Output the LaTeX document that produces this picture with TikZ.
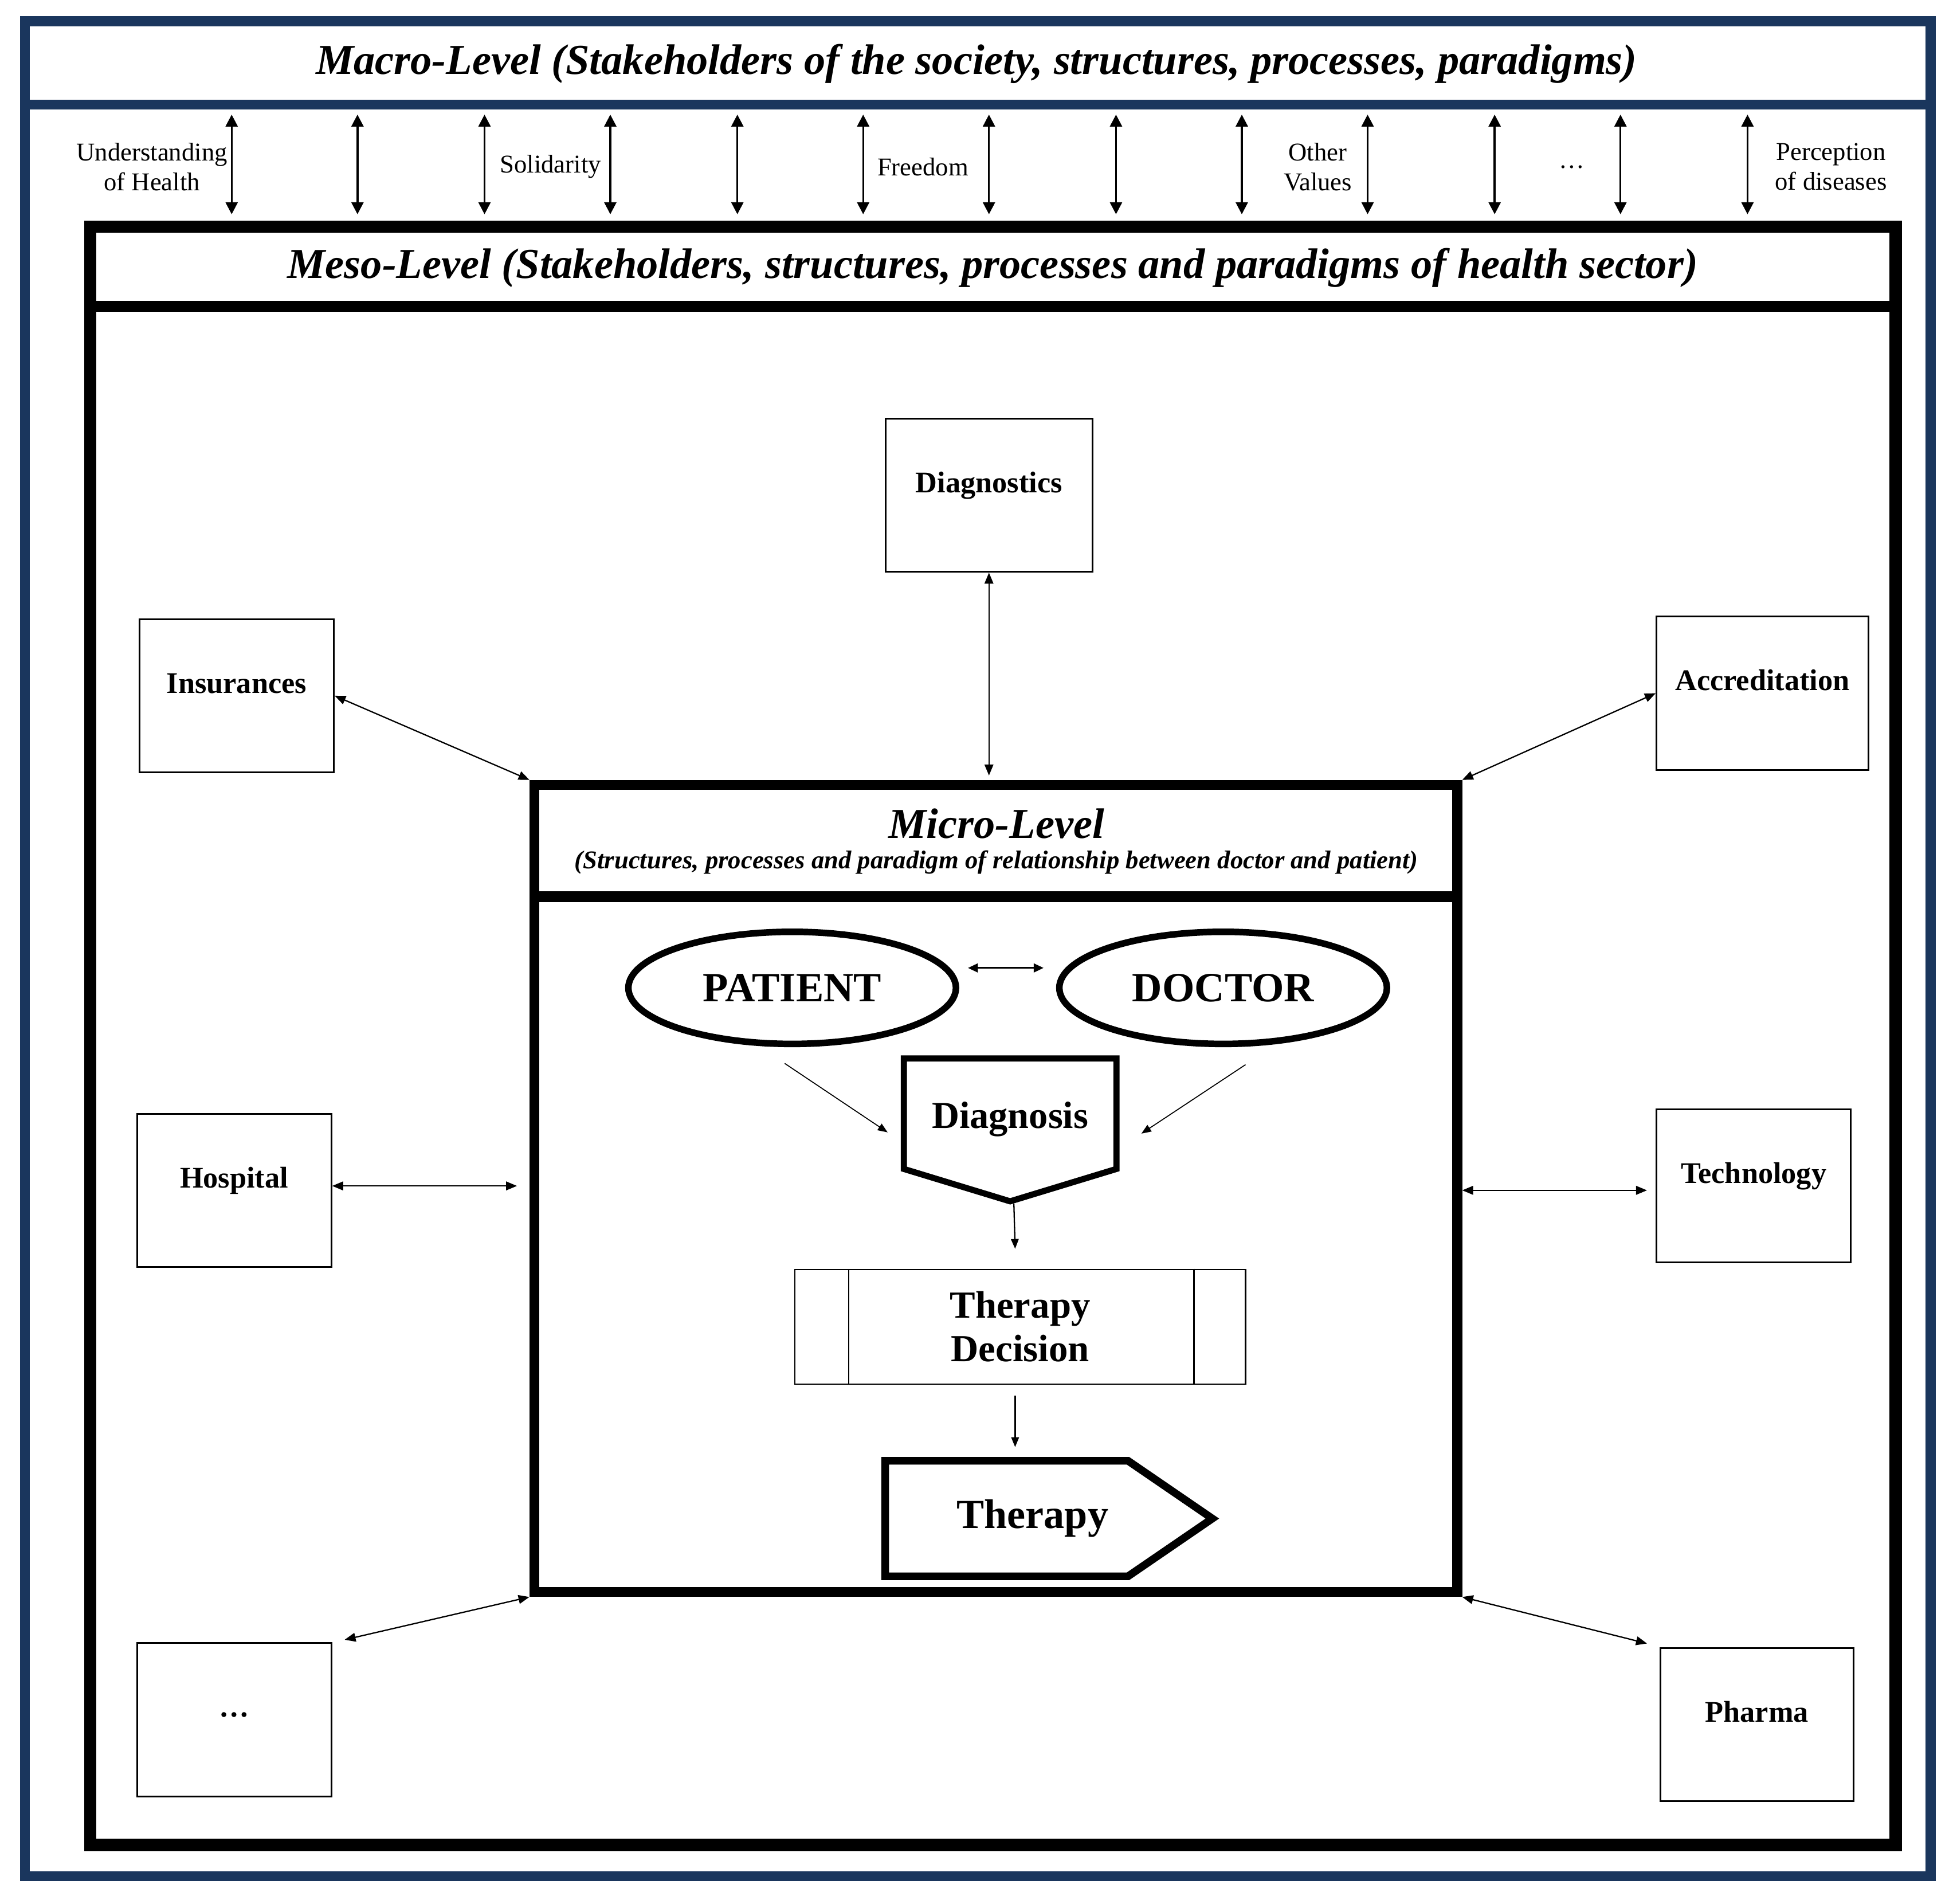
\documentclass[tikz,border=0pt]{standalone}
\usepackage{fontspec}
\setmainfont{Liberation Serif}
\usetikzlibrary{arrows.meta,calc,shapes.geometric}
\definecolor{frameblue}{RGB}{26,54,93}
\newcommand\mytitlefont{\bfseries\itshape\fontsize{19.5}{22}\selectfont}
\newcommand\mylblfont{\fontsize{11.7}{13.6}\selectfont}
\newcommand\myboxfont{\bfseries\fontsize{13.7}{16}\selectfont}
\begin{document}
\begin{tikzpicture}[x=0.02cm,y=-0.02cm,
  vdbl/.style={{Triangle[width=5.5pt,length=5.5pt]}-{Triangle[width=5.5pt,length=5.5pt]},line width=0.9pt},
  mesoarrow/.style={{Triangle[width=4pt,length=5pt]}-{Triangle[width=4pt,length=5pt]},line width=0.6pt},
  thinarrow/.style={-{Triangle[width=3.5pt,length=4.5pt]},line width=0.45pt},
  lbl/.style={font=\mylblfont,align=center,inner sep=0pt},
  mesobox/.style={draw,line width=0.8pt,minimum height=123*0.02cm,font=\myboxfont,text height=8pt,text depth=10.4pt,inner sep=0pt},
]
\useasboundingbox (0,0) rectangle (1568,1528);
\fill[white] (0,0) rectangle (1568,1528);

% outer blue frame (macro level)
\draw[frameblue,line width=4.5pt] (20,17) rectangle (1550,1506);
\draw[frameblue,line width=4.5pt] (20,84) -- (1550,84);
\node[font=\mytitlefont] (macrot) at (784,51) {Macro-Level (Stakeholders of the society, structures, processes, paradigms)};

% meso frame
\draw[line width=5.7pt] (72.5,182) rectangle (1522,1481);
\draw[line width=5pt] (72.5,246) -- (1522,246);
\node[font=\mytitlefont] (mesot) at (797,215) {Meso-Level (Stakeholders, structures, processes and paradigms of health sector)};

% macro-meso arrows
\foreach \x [count=\i] in {186,287,389,490,592,693,794,896,997,1098,1200,1301,1403}{
  \coordinate (t\i) at (\x,92);
  \coordinate (b\i) at (\x,172);
  \draw[vdbl] (t\i) -- (b\i);
}
\node[lbl] (l1) at (122,134) {Understanding\\of Health};
\node[lbl] (l2) at (442,134) {Solidarity};
\node[lbl] (l3) at (741,134) {Freedom};
\node[lbl] (l4) at (1058,134) {Other\\Values};
\node[lbl] (l5) at (1262,134) {\dots};
\node[lbl] (l6) at (1470,134) {Perception\\of diseases};

% meso boxes
\node[mesobox,minimum width=166*0.02cm] (diag) at (794,397.5) {Diagnostics};
\node[mesobox,minimum width=156*0.02cm] (ins) at (190,558.5) {Insurances};
\node[mesobox,minimum width=170*0.02cm] (acc) at (1415,556.5) {Accreditation};
\node[mesobox,minimum width=156*0.02cm] (hosp) at (188,955.5) {Hospital};
\node[mesobox,minimum width=156*0.02cm] (tech) at (1408,952) {Technology};
\node[mesobox,minimum width=156*0.02cm] (dots) at (188,1380.5) {\dots};
\node[mesobox,minimum width=155*0.02cm] (ph) at (1410.5,1384.5) {Pharma};

% micro frame
\node[draw,line width=4.5pt,minimum width=741*0.02cm,minimum height=648*0.02cm,inner sep=0pt] (micro) at (799.5,954) {};
\draw[line width=5pt] (429,720) -- (1170,720);
\node[font=\bfseries\itshape\fontsize{19.5}{22}\selectfont] (microt) at (800,661) {Micro-Level};
\node[font=\bfseries\itshape\fontsize{11.7}{13}\selectfont] (micros) at (800,692) {(Structures, processes and paradigm of relationship between doctor and patient)};

% meso connectors
\draw[mesoarrow] (diag.south) -- ([yshift=2pt]diag.south |- micro.north);
\draw[mesoarrow] (ins.east) -- (micro.north west);
\draw[mesoarrow] (acc.west) -- (micro.north east);
\draw[mesoarrow,shorten >=0.2cm] ([yshift=2pt]hosp.east) -- ([yshift=2pt]micro.west |- hosp.east);
\draw[mesoarrow,shorten <=0.14cm] ([yshift=-2pt]tech.west) -- ([yshift=-2pt]micro.east |- tech.west);
\draw[mesoarrow] ($(dots.north east)+(10,-2)$) -- (micro.south west);
\draw[mesoarrow] ($(ph.north west)+(-10,-3)$) -- (micro.south east);

% micro content
\node[draw,ellipse,line width=3pt,minimum width=263*0.02cm,minimum height=90*0.02cm,font=\bfseries\fontsize{19}{22}\selectfont] (pat) at (636,793) {PATIENT};
\node[draw,ellipse,line width=3pt,minimum width=263*0.02cm,minimum height=90*0.02cm,font=\bfseries\fontsize{19}{22}\selectfont] (doc) at (982,793) {DOCTOR};
\draw[{Triangle[width=4pt,length=4.5pt]}-{Triangle[width=4pt,length=4.5pt]},line width=0.8pt] ($(pat.east)+(7,-16)$) -- ($(doc.west)+(-10,-16)$);

\node[minimum width=170*0.02cm,minimum height=88*0.02cm,inner sep=0pt,font=\bfseries\fontsize{17.4}{20}\selectfont,text height=16pt,text depth=2.6pt] (dgn) at (811,894) {Diagnosis};
\coordinate (dgntip) at ($(dgn.south)+(0,26)$);
\draw[line width=2.8pt,line join=miter] (dgn.north west) -- (dgn.north east) -- (dgn.south east) -- (dgntip) -- (dgn.south west) -- cycle;

\draw[thinarrow] ($(pat.south)+(-6,13)$) -- ($(dgn.west)+(-13,15)$);
\draw[thinarrow] ($(doc.south)+(18,14)$) -- ($(dgn.east)+(20,16)$);

\node[draw,line width=0.6pt,minimum width=362*0.02cm,minimum height=92*0.02cm,align=center,font=\bfseries\fontsize{17.5}{20}\selectfont] (tdec) at (819,1065) {Therapy\\Decision};
\draw[line width=0.6pt] ($(tdec.north west)+(44,0)$) -- ($(tdec.south west)+(44,0)$);
\draw[line width=0.6pt] ($(tdec.north east)+(-42,0)$) -- ($(tdec.south east)+(-42,0)$);

\draw[thinarrow,line width=0.6pt] ($(dgntip)+(3,2)$) -- ($(tdec.north)+(-4,-16)$);

\node[minimum width=236*0.02cm,minimum height=92*0.02cm,inner sep=0pt,font=\bfseries\fontsize{18.9}{22}\selectfont] (thr) at (829,1219) {Therapy};
\draw[line width=3.5pt,line join=miter] (thr.north west) -- ($(thr.north west)+(195,0)$) -- ($(thr.east)+(26,0)$) -- ($(thr.south west)+(195,0)$) -- (thr.south west) -- cycle;

\draw[thinarrow,line width=0.6pt] ($(tdec.south)+(-4,9)$) -- ($(thr.north)+(-14,-11)$);
\end{tikzpicture}
\end{document}
